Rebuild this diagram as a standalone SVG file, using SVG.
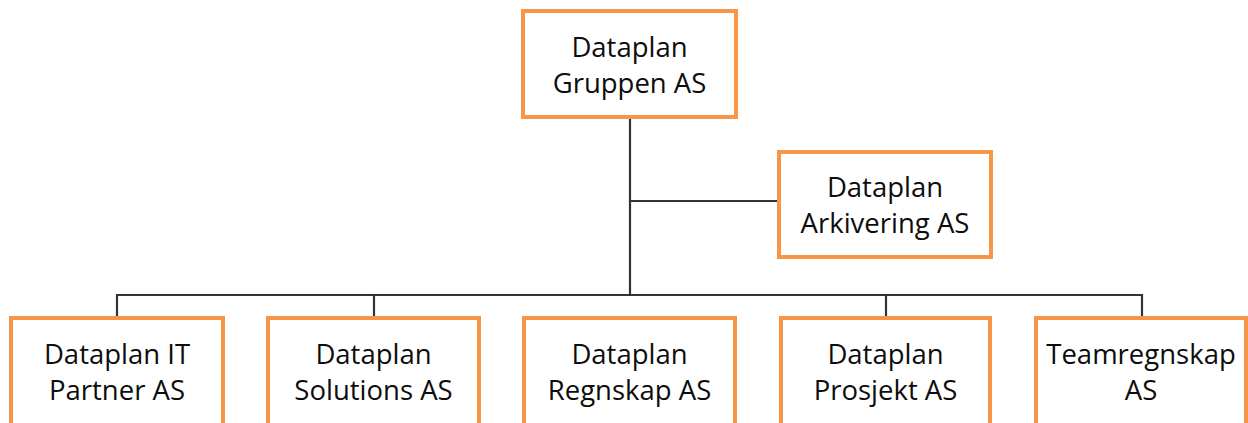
<svg xmlns="http://www.w3.org/2000/svg" width="1248" height="423" viewBox="0 0 1248 423">
<style>
.box{fill:#fff;stroke:#F79646;stroke-width:4}
.lbl{font-family:"Open Sans","Liberation Sans",sans-serif;font-size:27.5px;fill:#0d0d0d;text-anchor:middle}
.con{stroke:#333;stroke-width:2.2;fill:none}
</style>
<rect width="1248" height="423" fill="#fff"/>
<g id="connectors">
<path class="con" d="M630 118V295"/>
<path class="con" d="M630 201H778"/>
<path class="con" d="M117 317V295H1142V317"/>
<path class="con" d="M374 295V317M886 295V317"/>
</g>
<g id="n-gruppen">
<rect class="box" x="523" y="11" width="213" height="106"/>
<text class="lbl" x="629.5" y="57">Dataplan</text>
<text class="lbl" x="629.5" y="93">Gruppen AS</text>
</g>
<g id="n-arkivering">
<rect class="box" x="779" y="152" width="212" height="105"/>
<text class="lbl" x="885" y="197">Dataplan</text>
<text class="lbl" x="885" y="233">Arkivering AS</text>
</g>
<g id="n-itpartner">
<rect class="box" x="11" y="318" width="212" height="110"/>
<text class="lbl" x="117" y="364">Dataplan IT</text>
<text class="lbl" x="117" y="400">Partner AS</text>
</g>
<g id="n-solutions">
<rect class="box" x="268" y="318" width="211" height="110"/>
<text class="lbl" x="373.5" y="364">Dataplan</text>
<text class="lbl" x="373.5" y="400">Solutions AS</text>
</g>
<g id="n-regnskap">
<rect class="box" x="524" y="318" width="211" height="110"/>
<text class="lbl" x="629.5" y="364">Dataplan</text>
<text class="lbl" x="629.5" y="400">Regnskap AS</text>
</g>
<g id="n-prosjekt">
<rect class="box" x="781" y="318" width="209" height="110"/>
<text class="lbl" x="885.5" y="364">Dataplan</text>
<text class="lbl" x="885.5" y="400">Prosjekt AS</text>
</g>
<g id="n-teamregnskap">
<rect class="box" x="1036" y="318" width="210" height="110"/>
<text class="lbl" x="1141" y="364">Teamregnskap</text>
<text class="lbl" x="1141" y="400">AS</text>
</g>
</svg>
